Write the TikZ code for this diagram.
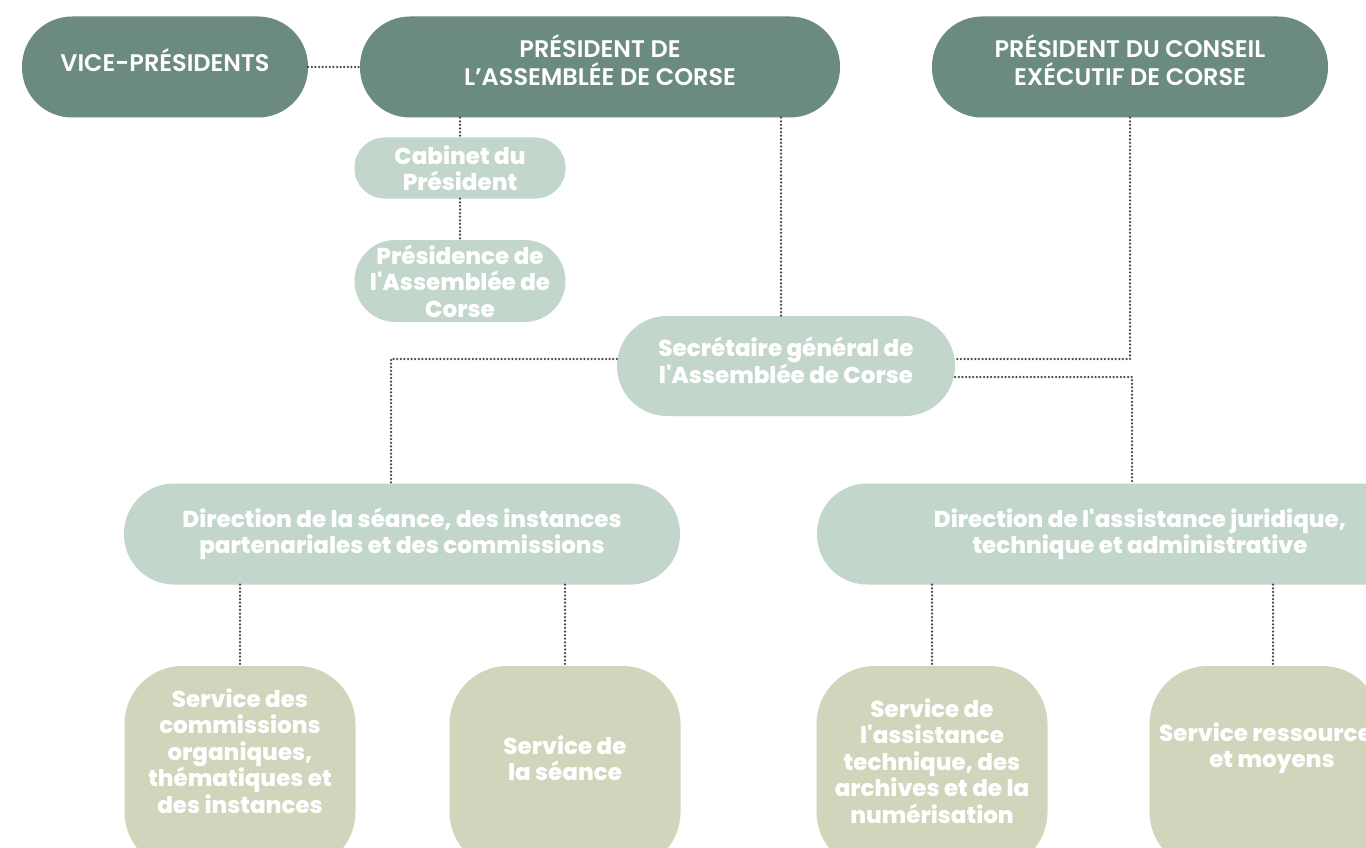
\documentclass[tikz,border=0pt]{standalone}
\usepackage{fontspec}
\setmainfont{Poppins}[BoldFont={Poppins ExtraBold}]
\newfontfamily\headfont{Poppins SemiBold}
\usetikzlibrary{positioning}
\definecolor{darkgreen}{HTML}{6B8A80}
\definecolor{lightgreen}{HTML}{C3D6CB}
\definecolor{khaki}{HTML}{D2D4BC}
\definecolor{linegray}{HTML}{454545}
\tikzset{
  box/.style={fill=#1, text=white, align=center, inner sep=0pt,
    font=\bfseries\fontsize{23}{26.5}\selectfont},
  headbox/.style={box=darkgreen, rounded corners=50pt, minimum height=101pt, text depth=13pt,
    font=\headfont\fontsize{24}{28}\selectfont},
  midbox/.style={box=lightgreen},
  svcbox/.style={box=khaki, rounded corners=58pt, minimum width=231pt, minimum height=204pt},
  svctext/.style={text=white, align=center, inner sep=0pt,
    font=\bfseries\fontsize{23}{26.5}\selectfont},
  link/.style={draw=linegray, line width=2.5pt, dash pattern=on 0pt off 3.6pt, line cap=round},
}

\begin{document}
\begin{tikzpicture}[x=1pt, y=-1pt]
    \clip (0,0) rectangle (1366,848);
    \fill[white] (0,0) rectangle (1366,848);

    \node[headbox, minimum width=286pt] (vp) at (165,67) {VICE-PRÉSIDENTS};
    \node[headbox, minimum width=480pt] (pres) at (600,67) {PRÉSIDENT DE\\L’ASSEMBLÉE DE CORSE};
    \node[headbox, minimum width=396pt] (pec) at (1130,67) {PRÉSIDENT DU CONSEIL\\EXÉCUTIF DE CORSE};

    \node[midbox, rounded corners=30pt, minimum width=211pt, minimum height=61pt] (cab) at (460,168) {Cabinet du\\Président};
    \node[midbox, rounded corners=41pt, minimum width=211pt, minimum height=82pt] (presid) at (460,281) {Présidence de\\l\textquotesingle Assemblée de\\Corse};
    \node[midbox, rounded corners=50pt, minimum width=338pt, minimum height=100pt, text depth=12pt] (sg) at (786,366) {Secrétaire général de\\l\textquotesingle Assemblée de Corse};

    \node[midbox, rounded corners=50pt, minimum width=556pt, minimum height=101pt] (dsea) at (402,534) {Direction de la séance, des instances\\partenariales et des commissions};
    \node[midbox, rounded corners=50pt, minimum width=646pt, minimum height=101pt] (dja) at (1140,534) {Direction de l\textquotesingle assistance juridique,\\technique et administrative};

    \node[svcbox] (com) at (240,768) {};
    \node[svctext] (comtxt) at (240,751) {Service des\\commissions\\organiques,\\thématiques et\\des instances};
    \node[svcbox] (sea) at (565,768) {};
    \node[svctext] (seatxt) at (565,758) {Service de\\la séance};
    \node[svcbox] (ast) at (932,768) {};
    \node[svctext] (asttxt) at (932,761) {Service de\\l\textquotesingle assistance\\technique, des\\archives et de la\\numérisation};
    \node[svcbox] (res) at (1265,768) {};
    \node[svctext] (restxt) at (1272,748) {Service ressources\\et moyens};

    \draw[link] (vp.east) -- (pres.west);
    \draw[link] (pres.south -| cab.north) -- (cab.north);
    \draw[link] (cab.south) -- (presid.north);
    \draw[link] ([xshift=-5pt]pres.south -| sg.north) -- ([xshift=-5pt]sg.north);
    \draw[link] (pec.south) |- ([yshift=7pt]sg.east);
    \draw[link] ([yshift=-11pt]sg.east) -| ([xshift=-8pt]dja.north);
    \draw[link] ([yshift=7pt]sg.west) -| ([xshift=-11pt]dsea.north);
    \draw[link] (dsea.south -| com.north) -- (com.north);
    \draw[link] (dsea.south -| sea.north) -- (sea.north);
    \draw[link] (dja.south -| ast.north) -- (ast.north);
    \draw[link] ([xshift=8pt]dja.south -| res.north) -- ([xshift=8pt]res.north);
\end{tikzpicture}
\end{document}
